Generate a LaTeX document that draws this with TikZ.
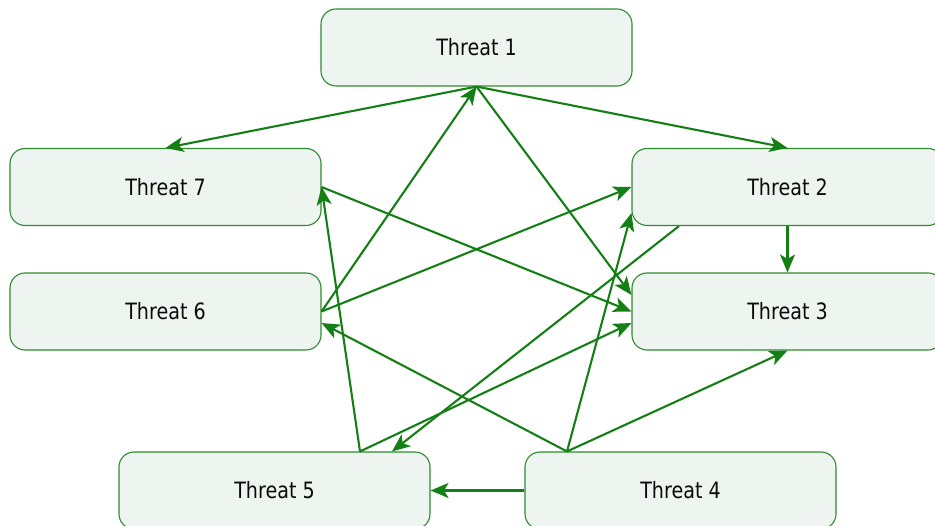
\documentclass[tikz,border=0pt]{standalone}
\usepackage{fontspec}
\setmainfont{DejaVu Sans}[FakeStretch=0.85]
\usetikzlibrary{arrows.meta}
\definecolor{edgegreen}{HTML}{147F14}
\definecolor{boxline}{HTML}{2E8B2E}
\definecolor{boxfill}{HTML}{EEF5F0}
\definecolor{txt}{HTML}{0A0A0A}
\begin{document}
\begin{tikzpicture}[x=1pt,y=-1pt,
  threatbox/.style={draw=boxline, line width=1.1pt, fill=boxfill, rounded corners=15pt,
    minimum width=311pt, minimum height=77pt, inner sep=0pt, text=txt,
    font=\fontsize{22.5}{26}\selectfont},
  conn/.style={draw=edgegreen, line width=2.1pt,
    -{Stealth[length=18pt,width=15pt,inset=4.5pt]}}]
\useasboundingbox (0,0) rectangle (935,526);
\node[threatbox] (t1) at (476.5,47.5) {\raisebox{1.5pt}{Threat 1}};
\node[threatbox] (t7) at (165.5,187) {Threat 7};
\node[threatbox] (t2) at (787.5,187) {Threat 2};
\node[threatbox] (t6) at (165.5,311.5) {Threat 6};
\node[threatbox] (t3) at (787.5,311.5) {Threat 3};
\node[threatbox] (t5) at (274.5,490.5) {\raisebox{1.5pt}{Threat 5}};
\node[threatbox] (t4) at (680.5,490.5) {\raisebox{1.5pt}{Threat 4}};
% edges
\draw[conn] (t1.south) -- (t7.north);
\draw[conn] (t1.south) -- (t2.north);
\draw[conn] (t1.south) -- ([yshift=16.5pt]t3.west);
\draw[conn] (t6.east) -- (t1.south);
\draw[conn] (t6.east) -- (t2.west);
\draw[conn] (t7.east) -- (t3.west);
\draw[conn] (t2.south) -- (t3.north);
\draw[conn] ([xshift=-108.5pt]t2.south) -- ([xshift=117.5pt]t5.north);
\draw[conn] ([xshift=85.5pt]t5.north) -- (t7.east);
\draw[conn] ([xshift=85.5pt]t5.north) -- ([yshift=-11.5pt]t3.west);
\draw[conn] ([xshift=-113.5pt]t4.north) -- ([yshift=-26pt]t2.west);
\draw[conn] ([xshift=-113.5pt]t4.north) -- ([yshift=-11.5pt]t6.east);
\draw[conn] ([xshift=-113.5pt]t4.north) -- (t3.south);
\draw[conn] (t4.west) -- (t5.east);
\end{tikzpicture}
\end{document}
